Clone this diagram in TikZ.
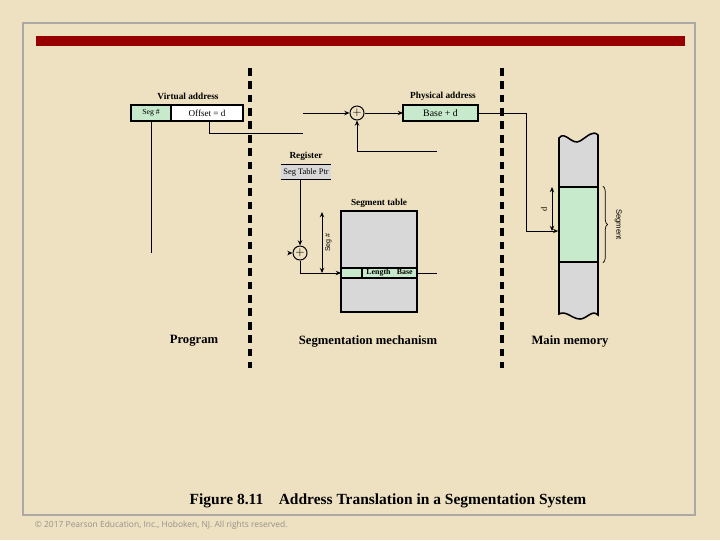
\documentclass[tikz,border=0pt]{standalone}
\usepackage{fontspec}
\setmainfont{Liberation Serif}
\setsansfont{Liberation Sans}
\newfontfamily\notefont{Open Sans}
\usetikzlibrary{arrows.meta, positioning, calc, decorations.pathreplacing}
\definecolor{parchment}{RGB}{238, 225, 193}
\definecolor{framegray}{RGB}{172, 168, 163}
\definecolor{barred}{RGB}{150, 0, 0}
\definecolor{mintgreen}{RGB}{200, 234, 204}
\definecolor{tablegray}{RGB}{216, 216, 216}
\definecolor{notegray}{RGB}{150, 145, 138}
\tikzset{
  >={Stealth[length=1.3mm, width=1.1mm]},
  flowarrow/.style={->, line width=0.7pt, draw=black},
  flowline/.style={line width=0.7pt, draw=black},
  sepline/.style={line width=2.2pt, draw=black, dash pattern=on 5.5pt off 4pt},
  boxline/.style={line width=1.1pt, draw=black},
  segbox/.style={rectangle, draw, line width=0.8pt, fill=mintgreen, minimum height=0.4cm, inner sep=0pt, outer sep=0pt, font=\fontsize{5.5}{6}\selectfont},
  plainbox/.style={rectangle, draw, line width=0.8pt, fill=white, minimum height=0.4cm, inner sep=0pt, outer sep=0pt, font=\fontsize{6.5}{7}\selectfont},
  adder/.style={circle, draw, line width=0.7pt, minimum size=0.35cm, inner sep=0pt, font=\fontsize{8}{8}\selectfont},
  titlelabel/.style={font=\fontsize{6.6}{7}\selectfont\bfseries},
  partlabel/.style={font=\fontsize{9}{10}\selectfont\bfseries},
  sidelabel/.style={font=\sffamily\fontsize{5}{6}\selectfont}
}
\begin{document}
\begin{tikzpicture}[x=0.025cm, y=-0.025cm]
    % page, frame and title bar
    \fill[parchment] (0,0) rectangle (720,540);
    \useasboundingbox (0,0) rectangle (720,540);
    \draw[framegray, line width=1.4pt] (23,23) rectangle (695,515);
    \fill[barred] (36,36) rectangle (685,46);

    % dashed separators
    \draw[sepline] (250,68) -- (250,368);
    \draw[sepline] (502,68) -- (502,368);

    % Virtual address
    \node[segbox, minimum width=1cm] (seg) at (151,113) {Seg \#};
    \node[plainbox, minimum width=1.8cm, right=0pt of seg] (offset) {Offset = d};
    \node[titlelabel] (vlabel) at (188,96) {Virtual address};

    % Physical address
    \node[adder] (add1) at (357,113) {$+$};
    \node[segbox, minimum width=1.875cm, font=\fontsize{7}{8}\selectfont] (phys) at (440.5,113) {Base + d};
    \node[titlelabel] (plabel) at (443,96) {Physical address};

    % Register
    \node[rectangle, fill=tablegray, minimum width=1.25cm, minimum height=0.375cm, inner sep=0pt, font=\fontsize{6}{7}\selectfont] (reg) at (306,172) {Seg Table Ptr};
    \draw[line width=0.8pt] (reg.north west) -- (reg.north east);
    \draw[line width=0.8pt] (reg.south west) -- (reg.south east);
    \node[titlelabel] (rlabel) at (306,156) {Register};

    % Segment table
    \node[rectangle, boxline, fill=tablegray, minimum width=1.9cm, minimum height=2.525cm, inner sep=0pt] (segtab) at (379,261.5) {};
    \node[titlelabel] (tlabel) at (379,203) {Segment table};
    \node[segbox, boxline, minimum width=0.525cm, minimum height=0.25cm] (entrya) at (351.5,273) {};
    \node[segbox, boxline, minimum width=1.375cm, minimum height=0.25cm, font=\fontsize{5.6}{6}\selectfont\bfseries, right=0pt of entrya] (entryb) {Length\hspace{0.8em}Base};
    \node[adder] (add2) at (300,253) {$+$};

    % Main memory
    \draw[boxline, fill=tablegray] (559,138) .. controls (565,130) and (572,146) .. (580,141)
        .. controls (588,136) and (593,130) .. (598,135) -- (598,315)
        .. controls (592,309) and (587,319) .. (580,319)
        .. controls (572,319) and (566,310) .. (559,314) -- cycle;
    \node[rectangle, boxline, fill=mintgreen, minimum width=0.975cm, minimum height=1.875cm, inner sep=0pt] (segmem) at (578.5,224.5) {};

    % named free ends
    \coordinate (segend) at (151,253);
    \coordinate (offturn) at (209,133);
    \coordinate (offend) at (303,133);
    \coordinate (addin) at (303,113);
    \coordinate (baseend) at (437,151);
    \coordinate (baseout) at (437,273);
    \coordinate (physturn) at (526,231);
    \coordinate (stubin) at (288,253);
    \coordinate (sntop) at (322,212);
    \coordinate (snbot) at (322,273);
    \coordinate (dtop) at (552,187);
    \coordinate (dbot) at (552,231);

    % connectors
    \draw[flowline] (seg.south) -- (segend);
    \draw[flowline] (offset.south -| offturn) -- (offturn) -- (offend);
    \draw[flowarrow] (addin) -- (add1.west);
    \draw[flowarrow] (add1.east) -- (phys.west);
    \draw[flowarrow] (baseend) -| (add1.south);
    \draw[flowarrow] (phys.east) -| (physturn) -- (physturn -| segmem.west);
    \draw[flowarrow] (reg.south -| add2) -- (add2.north);
    \draw[flowarrow] (stubin) -- (add2.west);
    \draw[flowarrow] (add2.south) |- (entrya.west);
    \draw[flowline] (entryb.east) -- (baseout);
    \draw[<->, flowline] (sntop) -- (snbot) node[midway, rotate=90, anchor=north, inner sep=2pt, sidelabel] {Seg \#};
    \draw[<->, flowline] (dtop) -- (dbot) node[midway, rotate=90, anchor=south, sidelabel, font=\fontsize{6}{7}\selectfont] {d};
    \draw[line width=0.5pt, decorate, decoration={brace, amplitude=3.5pt}] ($(segmem.north east)+(4,0)$) -- ($(segmem.south east)+(4,0)$)
        node[midway, right=5pt, rotate=-90, anchor=south, sidelabel, font=\sffamily\fontsize{5.5}{6}\selectfont] {Segment};

    % part labels
    \node[partlabel] (prog) at (194,341) {Program};
    \node[partlabel] (mech) at (368,341) {Segmentation mechanism};
    \node[partlabel] (mem) at (570,341) {Main memory};

    % caption and note
    \node[font=\fontsize{11}{12}\selectfont\bfseries] (caption) at (388,501) {Figure 8.11\hspace{1em}Address Translation in a Segmentation System};
    \node[anchor=west, text=notegray, font=\notefont\fontsize{6}{7}\selectfont] (note) at (30,525) {© 2017 Pearson Education, Inc., Hoboken, NJ. All rights reserved.};
\end{tikzpicture}
\end{document}
